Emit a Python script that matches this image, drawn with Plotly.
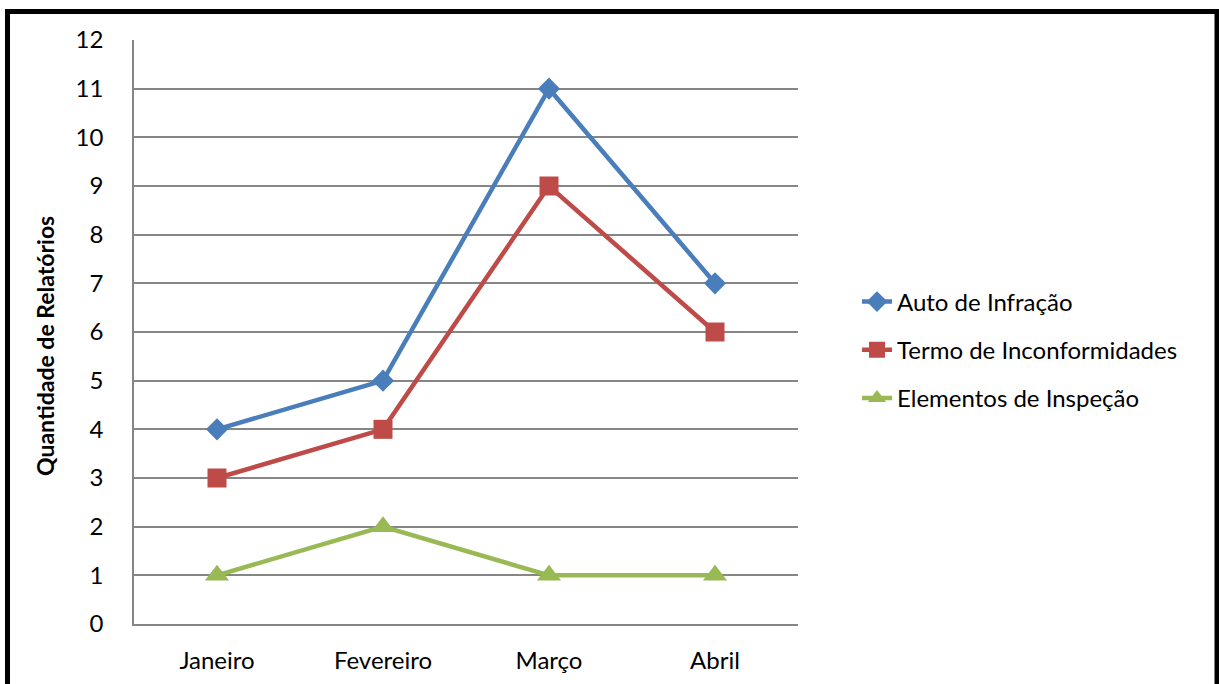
import plotly.graph_objects as go

meses = ["Janeiro", "Fevereiro", "Março", "Abril"]
auto_infracao = [4, 5, 11, 7]
termo_inconformidades = [3, 4, 9, 6]
elementos_inspecao = [1, 2, 1, 1]
y_ticks = list(range(0, 13))

FONT = "Lato"
FS = 24
L, R, T, B = 134, 421, 40, 60
W, H = 1219, 684
PW, PH = W - L - R, H - T - B


def px(x):
    return (x - L) / PW


def py(y):
    return (H - B - y) / PH


fig = go.Figure()
fig.add_trace(go.Scatter(x=meses, y=auto_infracao, name="Auto de Infração", mode="lines+markers",
                         legendgroup="a",
                         line=dict(color="#4A7EBB", width=4.5),
                         marker=dict(symbol="diamond", size=17, color="#4A7EBB")))
fig.add_trace(go.Scatter(x=meses, y=termo_inconformidades, name="Termo de Inconformidades", mode="lines+markers",
                         legendgroup="b",
                         line=dict(color="#BE4B48", width=4.5),
                         marker=dict(symbol="square", size=19, color="#BE4B48")))
fig.add_trace(go.Scatter(x=meses, y=elementos_inspecao, name="Elementos de Inspeção", mode="lines+markers",
                         legendgroup="c",
                         line=dict(color="#98B954", width=4.5),
                         marker=dict(symbol="triangle-up", size=21, color="#98B954")))

fig.update_layout(
    width=W, height=H,
    margin=dict(l=L, r=R, t=T, b=B, autoexpand=False),
    paper_bgcolor="white", plot_bgcolor="white",
    font=dict(family=FONT, size=FS, color="black"),
    showlegend=True,
    legend=dict(x=px(857), y=py(350), xanchor="left", yanchor="middle",
                font=dict(family=FONT, size=FS, color="black"),
                traceorder="grouped", tracegroupgap=14, itemsizing="trace",
                bgcolor="rgba(0,0,0,0)"),
    xaxis=dict(type="category", range=[-0.5, 3.5], showgrid=False, showline=True, automargin=False,
               linecolor="#868686", linewidth=1.5, ticks="", ticklabelstandoff=14,
               tickfont=dict(family=FONT, size=FS), zeroline=False),
    yaxis=dict(range=[0, 12], tickvals=y_ticks, showgrid=True, gridcolor="#868686", gridwidth=1.5,
               showline=True, linecolor="#868686", linewidth=1.5, ticks="", ticklabelstandoff=24,
               automargin=False,
               tickfont=dict(family=FONT, size=FS), zeroline=False),
    annotations=[dict(text="<b>Quantidade de Relatórios</b>", textangle=-90,
                      xref="paper", yref="paper", x=px(45), y=py(346),
                      xanchor="center", yanchor="middle", showarrow=False,
                      font=dict(family=FONT, size=23, color="black"))],
    shapes=[dict(type="rect", xref="paper", yref="paper",
                 x0=px(7.5), x1=px(1217),
                 y0=-0.2, y1=py(11.5),
                 line=dict(color="black", width=5), fillcolor="rgba(0,0,0,0)", layer="above")],
)

fig.write_html("out.html")
